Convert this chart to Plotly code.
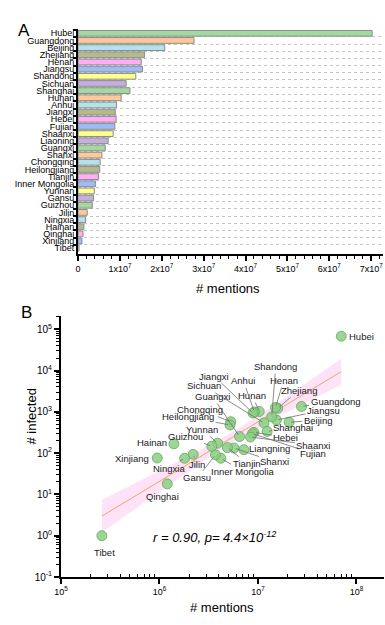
import numpy as np
import plotly.graph_objects as go

# ---------------- data ----------------
provinces = ["Hubei", "Guangdong", "Beijing", "Zhejiang", "Henan", "Jiangsu", "Shandong",
             "Sichuan", "Shanghai", "Hunan", "Anhui", "Jiangxi", "Hebei", "Fujian", "Shaanxi",
             "Liaoning", "Guangxi", "Shanxi", "Chongqing", "Heilongjiang", "Tianjin",
             "Inner Mongolia", "Yunnan", "Gansu", "Guizhou", "Jilin", "Ningxia", "Hainan",
             "Qinghai", "Xinjiang", "Tibet"]
mentions = [7.02e7, 2.77e7, 2.07e7, 1.59e7, 1.51e7, 1.54e7, 1.38e7,
            1.15e7, 1.24e7, 1.03e7, 0.92e7, 0.89e7, 0.91e7, 0.88e7, 0.84e7,
            0.72e7, 0.65e7, 0.57e7, 0.53e7, 0.52e7, 0.49e7,
            0.42e7, 0.39e7, 0.37e7, 0.34e7, 0.22e7, 0.18e7, 0.14e7,
            0.12e7, 0.095e7, 0.026e7]
infected = [67800, 1350, 560, 1215, 1272, 631, 758,
            539, 335, 1018, 990, 935, 318, 296, 245,
            121, 252, 133, 576, 480, 136,
            75, 174, 91, 146, 93, 75, 168,
            18, 76, 1]
scatter_labels = ["Hubei", "Guangdong", "Beijing", "Zhejiang", "Henan", "Jiangsu", "Shandong",
                  "Sichuan", "Shanghai", "Hunan", "Anhui", "Jiangxi", "Hebei", "Fujian", "Shaanxi",
                  "Liangning", "Guangxi", "Shanxi", "Chongqing", "Heilongjiang", "Tianjin",
                  "Inner Mongolia", "Yunnan", "Gansu", "Guizhou", "Jilin", "Ningxia", "Hainan",
                  "Qinghai", "Xinjiang", "Tibet"]
a_xticks = [0, 1e7, 2e7, 3e7, 4e7, 5e7, 6e7, 7e7]
a_xticktext = ["0"] + [f"{i}x10<sup>7</sup>" for i in range(1, 8)]
b_xticks = [1e5, 1e6, 1e7, 1e8]
b_xticktext = ["10<sup>5</sup>", "10<sup>6</sup>", "10<sup>7</sup>", "10<sup>8</sup>"]
b_yticks = [1e-1, 1, 1e1, 1e2, 1e3, 1e4, 1e5]
b_yticktext = ["10<sup>-1</sup>", "10<sup>0</sup>", "10<sup>1</sup>", "10<sup>2</sup>",
               "10<sup>3</sup>", "10<sup>4</sup>", "10<sup>5</sup>"]
stats_text = "r = 0.90, p= 4.4×10<sup>-12</sup>"

# ---------------- styles ----------------
palette = ["#a3d9a0", "#ffc898", "#b2e2ea", "#b5b98e", "#ffaef6", "#9dbcf5", "#ffff8e", "#c3aedd"]
bar_colors = [palette[i % len(palette)] for i in range(len(provinces))]

# label offsets (pixels, text centre relative to point); arrow flag
label_pos = {
    "Hubei": (20, 0, False), "Guangdong": (34, -5, True), "Beijing": (29, -2, True),
    "Zhejiang": (21, -18, True), "Henan": (8, -27, True), "Jiangsu": (47, -10, True),
    "Shandong": (4, -50, True), "Sichuan": (-60, -37, True), "Shanghai": (26, -4, True),
    "Hunan": (-7, -16, True), "Anhui": (-11, -31, True), "Jiangxi": (-39, -37, True),
    "Hebei": (32, 5, True), "Fujian": (61, 20, True), "Shaanxi": (63, 8, True),
    "Liangning": (26, -1, False), "Guangxi": (-27, -40, True), "Shanxi": (41, 14, True),
    "Chongqing": (-31, -12, True), "Heilongjiang": (-42, -8, True), "Tianjin": (20, 16, True),
    "Inner Mongolia": (22, 13, True), "Yunnan": (-16, -14, True), "Gansu": (-18, 23, True),
    "Guizhou": (-26, -10, True), "Jilin": (4, 10, True), "Ningxia": (-16, 10, True),
    "Hainan": (-22, -1, False), "Qinghai": (-5, 13, False), "Xinjiang": (-25, 0, False),
    "Tibet": (3, 17, False),
}

FONT = "Arial, 'Liberation Sans', sans-serif"
W, H = 385, 625

fig = go.Figure()

# ---------------- Panel A ----------------
fig.add_trace(go.Bar(
    x=mentions, y=provinces, orientation="h",
    marker=dict(color=bar_colors, line=dict(color="#8c8c8c", width=1)),
    width=0.8, xaxis="x", yaxis="y", showlegend=False,
))

# ---------------- Panel B ----------------
lx = np.log10(np.array(mentions))
ly = np.log10(np.array(infected))
n = len(lx)
slope, intercept = np.polyfit(lx, ly, 1)
resid = ly - (slope * lx + intercept)
s = np.sqrt(np.sum(resid ** 2) / (n - 2))
xbar = lx.mean()
sxx = np.sum((lx - xbar) ** 2)
tval = 2.045
xg = np.linspace(lx.min(), lx.max(), 100)
yg = slope * xg + intercept
se = s * np.sqrt(1.0 / n + (xg - xbar) ** 2 / sxx)
lo = yg - tval * se
hi = yg + tval * se

fig.add_trace(go.Scatter(x=10 ** xg, y=10 ** lo, mode="lines", line=dict(width=0),
                         xaxis="x2", yaxis="y2", showlegend=False, hoverinfo="skip"))
fig.add_trace(go.Scatter(x=10 ** xg, y=10 ** hi, mode="lines", line=dict(width=0),
                         fill="tonexty", fillcolor="rgba(250,190,240,0.45)",
                         xaxis="x2", yaxis="y2", showlegend=False, hoverinfo="skip"))
fig.add_trace(go.Scatter(x=10 ** xg, y=10 ** yg, mode="lines",
                         line=dict(color="#f5a467", width=1),
                         xaxis="x2", yaxis="y2", showlegend=False))
fig.add_trace(go.Scatter(
    x=mentions, y=infected, mode="markers",
    marker=dict(size=10, color="rgba(140,206,130,0.85)", line=dict(color="rgba(95,170,95,1)", width=0.8)),
    xaxis="x2", yaxis="y2", showlegend=False,
))

annotations = []
for lab, m, inf in zip(scatter_labels, mentions, infected):
    dx, dy, arrow = label_pos[lab]
    common = dict(x=np.log10(m), y=np.log10(inf), xref="x2", yref="y2", text=lab,
                  font=dict(family=FONT, size=9.5, color="#1a1a1a"))
    if arrow:
        annotations.append(dict(**common, showarrow=True, ax=dx, ay=dy, arrowhead=0,
                                arrowwidth=0.8, arrowcolor="#6e6e6e", standoff=2))
    else:
        annotations.append(dict(**common, showarrow=False, xshift=dx, yshift=-dy))

def pxx(v):
    return v / W

def pxy(v):
    return 1 - v / H

annotations += [
    dict(x=pxx(15.5), y=pxy(19), xref="paper", yref="paper", text="A", showarrow=False,
         font=dict(family=FONT, size=17, color="black")),
    dict(x=pxx(19), y=pxy(312.5), xref="paper", yref="paper", text="B", showarrow=False,
         font=dict(family=FONT, size=17, color="black")),
    dict(x=pxx(228), y=pxy(288), xref="paper", yref="paper", text="# mentions", showarrow=False,
         font=dict(family=FONT, size=13, color="black")),
    dict(x=pxx(222), y=pxy(617), xref="paper", yref="paper", text="# mentions", showarrow=False,
         font=dict(family=FONT, size=13, color="black")),
    dict(x=pxx(22), y=pxy(447), xref="paper", yref="paper", text="# infected", showarrow=False,
         textangle=-90, font=dict(family=FONT, size=13, color="black")),
    dict(x=pxx(214), y=pxy(547), xref="paper", yref="paper", text="<i>" + stats_text + "</i>",
         showarrow=False, font=dict(family=FONT, size=13, color="black")),
]

def log_minor(lo_exp, hi_exp):
    return [k * 10.0 ** d for d in range(lo_exp, hi_exp) for k in range(2, 10)]

axis_common = dict(showline=True, linecolor="black", linewidth=2, ticks="outside",
                   tickcolor="black", tickwidth=1.5, automargin=False,
                   tickfont=dict(family=FONT, size=9, color="black"), zeroline=False)

fig.update_layout(
    width=W, height=H, margin=dict(l=0, r=0, t=0, b=0),
    paper_bgcolor="white", plot_bgcolor="white",
    font=dict(family=FONT, color="black"),
    bargap=0.2,
    xaxis=dict(**axis_common, domain=[pxx(78), pxx(383)], range=[0, 7.28e7],
               tickmode="array", tickvals=a_xticks, ticktext=a_xticktext, ticklen=5,
               showgrid=False, anchor="y",
               minor=dict(ticks="outside", ticklen=3, tickcolor="black", tickwidth=1.2,
                          tick0=0, dtick=2e6, showgrid=False)),
    yaxis=dict(**axis_common, domain=[pxy(254), pxy(29)], type="category",
               categoryorder="array", categoryarray=provinces, range=[30.8, -0.6],
               tickmode="linear", tick0=0, dtick=1,
               tickson="boundaries", ticklen=3, showgrid=True, gridcolor="#c4c4c4",
               griddash="dot", gridwidth=1, anchor="x"),
    xaxis2=dict(**axis_common, domain=[pxx(61), pxx(384)], type="log", range=[5, 8.28],
                tickmode="array", tickvals=b_xticks, ticktext=b_xticktext, ticklen=5,
                showgrid=False, anchor="y2",
                minor=dict(ticks="inside", ticklen=3, tickcolor="black", tickwidth=1,
                           tickmode="array", tickvals=log_minor(5, 9), showgrid=False)),
    yaxis2=dict(**axis_common, domain=[pxy(577), pxy(316)], type="log", range=[-1, 5.32],
                tickmode="array", tickvals=b_yticks, ticktext=b_yticktext, ticklen=5,
                showgrid=False, anchor="x2",
                minor=dict(ticks="outside", ticklen=3, tickcolor="black", tickwidth=1,
                           tickmode="array", tickvals=log_minor(-1, 6), showgrid=False)),
    annotations=annotations,
)
fig.update_yaxes(selector=dict(anchor="x2"), tickfont=dict(family=FONT, size=10, color="black"))

fig.write_html("out.html")
